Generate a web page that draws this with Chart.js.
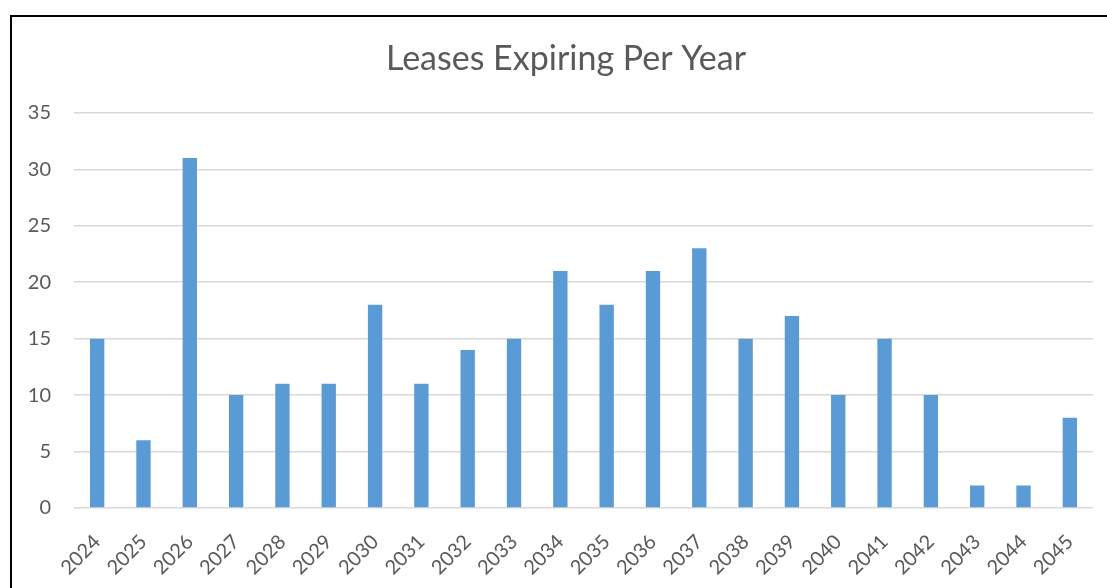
<!DOCTYPE html>
<html>
<head>
<meta charset="utf-8">
<script src="https://cdn.jsdelivr.net/npm/chart.js@4"></script>
<style>
    body { margin: 0; background: #fff; overflow: hidden; }
    #frame {
        position: absolute;
        left: 10px;
        top: 15px;
        width: 1110px;
        height: 573px;
        border-left: 2px solid #000;
        border-top: 2px solid #000;
        box-sizing: border-box;
    }
    #chartBars { display: block; }
</style>
</head>
<body>
<div id="frame"><canvas id="chartBars" width="1108" height="571"></canvas></div>
<script>
    // data
    var years = ['2024', '2025', '2026', '2027', '2028', '2029', '2030', '2031', '2032', '2033', '2034',
                 '2035', '2036', '2037', '2038', '2039', '2040', '2041', '2042', '2043', '2044', '2045'];
    var leases = [15, 6, 31, 10, 11, 11, 18, 11, 14, 15, 21, 18, 21, 23, 15, 17, 10, 15, 10, 2, 2, 8];
    var yTicks = [0, 5, 10, 15, 20, 25, 30, 35];

    var fontFamily = 'Lato, "Open Sans", sans-serif';

    var databar = {
        labels: years,
        datasets: [{
            data: leases,
            backgroundColor: '#5B9BD5',
            categoryPercentage: 1,
            barPercentage: 0.31
        }]
    };

    var optionbar = {
        responsive: false,
        animation: false,
        layout: { padding: 0 },
        plugins: {
            legend: { display: false },
            tooltip: { enabled: false },
            title: {
                display: true,
                text: 'Leases Expiring Per Year',
                color: '#595959',
                font: { family: fontFamily, size: 34, weight: 'normal', lineHeight: 1.2 },
                padding: { top: 22, bottom: 33 }
            }
        },
        scales: {
            x: {
                grid: { display: false },
                border: { display: false },
                ticks: {
                    color: '#595959',
                    font: { family: fontFamily, size: 20 },
                    minRotation: 45,
                    maxRotation: 45,
                    padding: 14
                },
                afterFit: function (scale) { scale.height = 80; }
            },
            y: {
                min: 0,
                max: 35,
                afterBuildTicks: function (scale) {
                    scale.ticks = yTicks.map(function (v) { return { value: v }; });
                },
                grid: { color: '#D9D9D9', lineWidth: 1.5, drawTicks: false },
                border: { display: false },
                ticks: {
                    color: '#595959',
                    font: { family: fontFamily, size: 20 },
                    padding: 23
                },
                afterFit: function (scale) { scale.width = 62; }
            },
            // empty right margin; the frame runs past the window edge like the cropped original
            yRight: {
                position: 'right',
                min: 0,
                max: 1,
                grid: { display: false },
                border: { display: false },
                ticks: { display: false },
                afterFit: function (scale) { scale.width = 27; }
            }
        }
    };

    var ctx = document.getElementById('chartBars');
    var myBarChart = new Chart(ctx, {
        type: 'bar',
        data: databar,
        options: optionbar
    });
</script>
</body>
</html>
